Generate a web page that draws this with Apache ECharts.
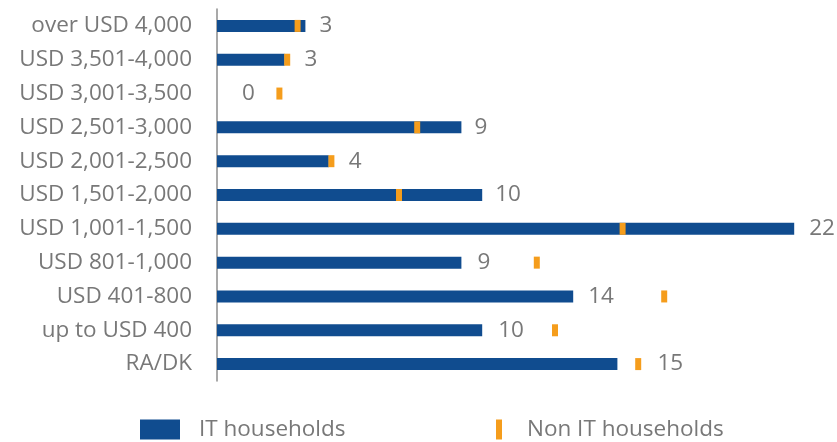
<!DOCTYPE html>
<html>
<head>
<meta charset="utf-8">
<script src="https://cdn.jsdelivr.net/npm/echarts@6/dist/echarts.min.js"></script>
<style>
  html, body { margin: 0; padding: 0; background: #fff; }
  #chart { width: 837px; height: 442px; }
</style>
</head>
<body>
<div id="chart"></div>
<script>
// income brackets, top to bottom
const categories = [
  "over USD 4,000", "USD 3,501-4,000", "USD 3,001-3,500", "USD 2,501-3,000",
  "USD 2,001-2,500", "USD 1,501-2,000", "USD 1,001-1,500", "USD 801-1,000",
  "USD 401-800", "up to USD 400", "RA/DK"
];
// IT households (%), labels show rounded value
const itValues = [3.4, 2.6, 0, 9.4, 4.3, 10.2, 22.2, 9.4, 13.7, 10.2, 15.4];
// Non IT households (%), drawn as a small marker
const nonItValues = [3.1, 2.7, 2.4, 7.7, 4.4, 7.0, 15.6, 12.3, 17.2, 13.0, 16.2];
// extra gap between bar end and its label
const labelGap = [14, 20, 25, 13, 20, 13, 15, 16, 15, 16, 40];

const chart = echarts.init(document.getElementById("chart"));
const textColor = "#787878";
const font = "'Open Sans', sans-serif";
const fontSize = 22.5;

chart.setOption({
  animation: false,
  backgroundColor: "#fff",
  grid: { left: 217, right: 22, top: 9, bottom: 61, containLabel: false },
  legend: [
    {
      data: ["IT households"],
      left: 140,
      top: 418,
      padding: 0,
      icon: "rect",
      itemWidth: 40,
      itemHeight: 20,
      textStyle: { color: textColor, fontSize: fontSize, fontFamily: font, padding: [0, 0, 0, 14] },
    },
    {
      data: ["Non IT households"],
      left: 496,
      top: 418,
      padding: 0,
      icon: "rect",
      itemWidth: 6,
      itemHeight: 20,
      textStyle: { color: textColor, fontSize: fontSize, fontFamily: font, padding: [0, 0, 0, 20] },
    },
  ],
  xAxis: {
    type: "value",
    min: 0,
    max: 23,
    show: false,
  },
  yAxis: {
    type: "category",
    data: categories,
    inverse: true,
    axisLine: { show: true, lineStyle: { color: "#8c8c8c", width: 1.5 } },
    axisTick: { show: false },
    splitLine: { show: false },
    axisLabel: { color: textColor, fontSize: fontSize, fontFamily: font, margin: 25 },
  },
  series: [
    {
      name: "IT households",
      type: "bar",
      barWidth: 12,
      itemStyle: { color: "#104c8f" },
      data: itValues.map((v, i) => ({
        value: v,
        label: { distance: labelGap[i] },
      })),
      label: {
        show: true,
        position: "right",
        color: textColor,
        fontSize: fontSize,
        fontFamily: font,
        formatter: (p) => Math.round(p.value),
      },
    },
    {
      name: "Non IT households",
      type: "scatter",
      symbol: "rect",
      symbolSize: [6, 12],
      itemStyle: { color: "#f59d1c", opacity: 1 },
      z: 3,
      data: nonItValues,
    },
  ],
});
</script>
</body>
</html>
